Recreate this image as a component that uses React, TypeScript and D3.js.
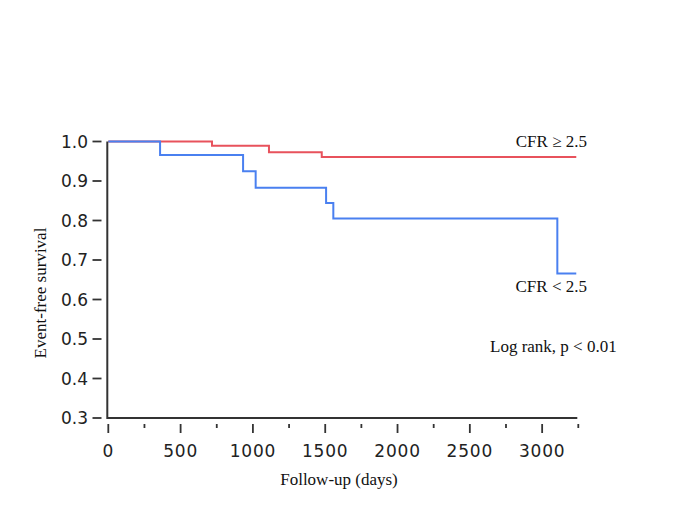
import React from "react";
import * as d3 from "d3";

const redTimes = [0, 717, 1111, 1476, 3236];
const redValues = [1.0, 0.989, 0.973, 0.961, 0.961];
const blueTimes = [0, 358, 932, 1019, 1506, 1556, 3105, 3236];
const blueValues = [1.0, 0.966, 0.925, 0.883, 0.844, 0.805, 0.666, 0.666];
const xMajorTicks = [0, 500, 1000, 1500, 2000, 2500, 3000];
const xMinorTicks = [250, 750, 1250, 1750, 2250, 2750, 3250];
const yTicks = [0.3, 0.4, 0.5, 0.6, 0.7, 0.8, 0.9, 1.0];
const redLabel = "CFR \u2265 2.5";
const blueLabel = "CFR < 2.5";
const statLabel = "Log rank, p < 0.01";
const xTitle = "Follow-up (days)";
const yTitle = "Event-free survival";

export default function App() {
  const x = d3.scaleLinear().domain([0, 3250]).range([108.3, 578.3]);
  const y = d3.scaleLinear().domain([0.3, 1.0]).range([418, 141.5]);
  const line = d3
    .line<[number, number]>()
    .x((d) => x(d[0]))
    .y((d) => y(d[1]))
    .curve(d3.curveStepAfter);
  const redPts = redTimes.map((t, i) => [t, redValues[i]] as [number, number]);
  const bluePts = blueTimes.map((t, i) => [t, blueValues[i]] as [number, number]);
  const serif = "'Liberation Serif', 'Times New Roman', serif";
  const sans = "'DejaVu Sans', Verdana, sans-serif";
  return (
    <svg
      width={685}
      height={513}
      style={{ position: "absolute", left: 0, top: 0, background: "#fff" }}
    >
      <path d={line(redPts) || ""} fill="none" stroke="#e8525c" strokeWidth={2} />
      <path d={line(bluePts) || ""} fill="none" stroke="#4a80f0" strokeWidth={2} />
      <path
        d={`M${x(0) - 1},${y(1.0)} V${y(0.3)} H${x(3250) - 1}`}
        fill="none"
        stroke="#333"
        strokeWidth={2}
      />
      {yTicks.map((t) => (
        <g key={"y" + t}>
          <line x1={92.5} x2={101.5} y1={y(t)} y2={y(t)} stroke="#333" strokeWidth={1.8} />
          <text
            x={88}
            y={y(t)}
            dy="0.36em"
            textAnchor="end"
            fontFamily={sans}
            fontSize={17}
            fill="#222"
          >
            {t.toFixed(1)}
          </text>
        </g>
      ))}
      {xMajorTicks.map((t) => (
        <g key={"x" + t}>
          <line x1={x(t)} x2={x(t)} y1={424} y2={433} stroke="#333" strokeWidth={1.8} />
          <text
            x={x(t)}
            y={457}
            textAnchor="middle"
            fontFamily={sans}
            fontSize={17}
            letterSpacing={0.8}
            fill="#222"
          >
            {t}
          </text>
        </g>
      ))}
      {xMinorTicks.map((t) => (
        <line key={"m" + t} x1={x(t)} x2={x(t)} y1={424} y2={428} stroke="#333" strokeWidth={1.8} />
      ))}
      <text x={587} y={147} textAnchor="end" fontFamily={serif} fontSize={17} fill="#111">
        {redLabel}
      </text>
      <text x={587} y={292} textAnchor="end" fontFamily={serif} fontSize={17} fill="#111">
        {blueLabel}
      </text>
      <text x={490} y={352} fontFamily={serif} fontSize={17} fill="#111">
        {statLabel}
      </text>
      <text x={339} y={485} textAnchor="middle" fontFamily={serif} fontSize={17} fill="#111">
        {xTitle}
      </text>
      <text
        transform={`translate(46,293) rotate(-90)`}
        textAnchor="middle"
        fontFamily={serif}
        fontSize={17}
        fill="#111"
      >
        {yTitle}
      </text>
    </svg>
  );
}
